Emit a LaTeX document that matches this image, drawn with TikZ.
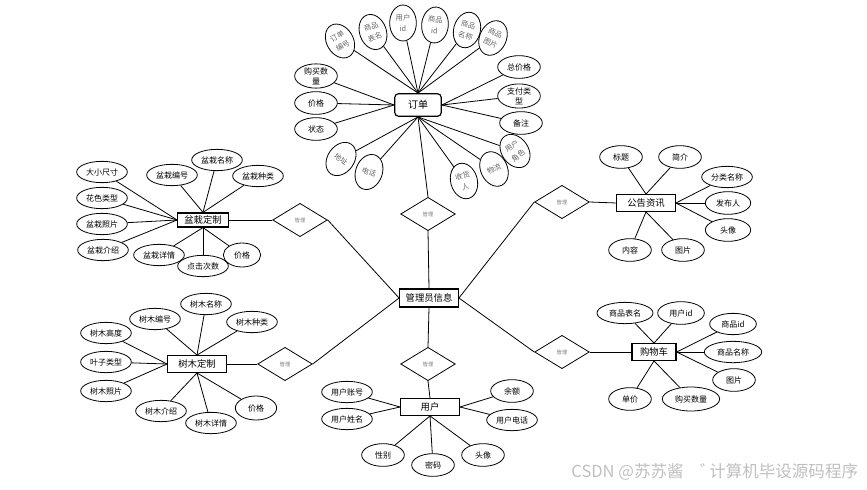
\documentclass[tikz,border=0pt]{standalone}
\usepackage{fontspec}
\setmainfont{Noto Sans CJK SC}
\usepackage{tikz}
\usetikzlibrary{shapes.geometric}

\begin{document}
\begin{tikzpicture}[x=0.75pt, y=-0.75pt, line width=0.6pt,
    every node/.style={font=\fontsize{6}{7.5}\selectfont, inner sep=0pt},
    attr/.style={ellipse, draw, minimum width=38pt, minimum height=16pt, align=center},
    sattr/.style={ellipse, draw, minimum width=32pt, minimum height=17pt, align=center},
    vattr/.style={ellipse, draw, minimum width=20pt, minimum height=27pt, align=center, text=black!60, font=\fontsize{5.5}{8.5}\selectfont},
    ent/.style={rectangle, draw, line width=0.9pt, minimum width=44pt, minimum height=12.5pt, font=\fontsize{7}{8}\selectfont},
    rel/.style={diamond, draw, minimum width=41pt, minimum height=25pt, text=black!50, font=\fontsize{4}{5}\selectfont}]
    \useasboundingbox (0,0) rectangle (867,489);

    % Centre - admin and its relations
    \node[ent, minimum height=13.5pt] (admin) at (429,298) {管理员信息};
    \node[rel] (rorder) at (428,214) {管理};
    \node[rel] (rbonsai) at (300,220) {管理};
    \node[rel] (rtree) at (285,364) {管理};
    \node[rel] (rnotice) at (562,202) {管理};
    \node[rel] (rcart) at (562,352) {管理};
    \node[rel] (ruser) at (428,364) {管理};

    % Entities
    \node[ent, rounded corners=3pt, minimum width=35pt, minimum height=17pt, font=\fontsize{7.5}{8}\selectfont] (order) at (418,105) {订单};
    \node[ent, minimum width=38pt, minimum height=10.5pt] (bonsai) at (203,220) {盆栽定制};
    \node[ent] (tree) at (197,364) {树木定制};
    \node[ent] (user) at (430,407) {用户};
    \node[ent] (notice) at (646,203) {公告资讯};
    \node[ent, minimum width=33pt] (cart) at (654,352) {购物车};

    \draw (admin.north) -- (rorder.south);
    \draw (rorder.north) -- (order.south);
    \draw (admin.west) -- (rbonsai.east);
    \draw (rbonsai.west) -- (bonsai.east);
    \draw (admin.west) -- (rtree.east);
    \draw (rtree.west) -- (tree.east);
    \draw (admin.east) -- (rnotice.west);
    \draw (rnotice.east) -- (notice.west);
    \draw (admin.east) -- (rcart.west);
    \draw (rcart.east) -- (cart.west);
    \draw (admin.south) -- (ruser.north);
    \draw (ruser.south) -- (user.north);

    % Order attributes
    \node[vattr, rotate=30] (oid) at (340,41) {订单\\编号};
    \node[vattr, rotate=20] (otab) at (373,32) {商品\\表名};
    \node[vattr] (ouid) at (403,23) {用户\\id};
    \node[vattr, rotate=-5] (opid) at (435,25) {商品\\id};
    \node[vattr, rotate=-15] (opname) at (467,30) {商品\\名称};
    \node[vattr, rotate=-25] (opic) at (493,38) {商品\\图片};
    \node[sattr] (ototal) at (519,67) {总价格};
    \node[sattr] (opay) at (519,96) {支付类\\型};
    \node[sattr] (onote) at (521,123) {备注};
    \node[vattr, rotate=35] (orole) at (515,151) {用户\\角色};
    \node[vattr, rotate=25] (oship) at (494,169) {物流};
    \node[vattr, rotate=15] (orecv) at (464,181) {收货\\人};
    \node[vattr, rotate=-20] (otel) at (369,172) {电话};
    \node[vattr, rotate=-35] (oaddr) at (341,159) {地址};
    \node[sattr] (ostate) at (316,129) {状态};
    \node[sattr] (oprice) at (316,103) {价格};
    \node[sattr] (onum) at (316,76) {购买数\\量};

    \foreach \a in {oid,otab,ouid,opid,opname,opic} \draw (order.north) -- (\a);
    \foreach \a in {ototal,opay,onote} \draw (order.east) -- (\a);
    \foreach \a in {orole,oship,orecv,otel,oaddr} \draw (order.south) -- (\a);
    \foreach \a in {ostate,oprice,onum} \draw (order.west) -- (\a);

    % Bonsai attributes
    \node[attr] (bsize) at (102,172) {大小尺寸};
    \node[attr] (bcolor) at (102,198) {花色类型};
    \node[attr] (bphoto) at (102,224) {盆栽照片};
    \node[attr] (bintro) at (103,250) {盆栽介绍};
    \node[attr] (bno) at (172,175) {盆栽编号};
    \node[attr] (bname) at (217,160) {盆栽名称};
    \node[attr] (bkind) at (258,176) {盆栽种类};
    \node[attr] (bdetail) at (159,255) {盆栽详情};
    \node[attr] (bclick) at (203,266) {点击次数};
    \node[sattr, minimum width=28pt, minimum height=18pt] (bprice) at (242,255) {价格};

    \foreach \a in {bsize,bcolor,bphoto,bintro} \draw (bonsai.west) -- (\a);
    \foreach \a in {bno,bname,bkind} \draw (bonsai.north) -- (\a);
    \foreach \a in {bdetail,bclick,bprice} \draw (bonsai.south) -- (\a);

    % Tree attributes
    \node[attr] (tno) at (155,319) {树木编号};
    \node[attr] (tname) at (206,304) {树木名称};
    \node[attr] (tkind) at (252,322) {树木种类};
    \node[attr] (theight) at (106,333) {树木高度};
    \node[attr] (tleaf) at (106,362) {叶子类型};
    \node[attr] (tphoto) at (106,391) {树木照片};
    \node[attr] (tintro) at (161,411) {树木介绍};
    \node[attr] (tdetail) at (211,423) {树木详情};
    \node[sattr, minimum width=31pt, minimum height=18pt] (tprice) at (256,408) {价格};

    \foreach \a in {theight,tleaf,tphoto} \draw (tree.west) -- (\a);
    \foreach \a in {tno,tname,tkind} \draw (tree.north) -- (\a);
    \foreach \a in {tintro,tdetail,tprice} \draw (tree.south) -- (\a);

    % User attributes
    \node[attr] (uacc) at (347,392) {用户账号};
    \node[attr] (uname) at (347,419) {用户姓名};
    \node[sattr] (usex) at (383,455) {性别};
    \node[sattr] (upwd) at (433,465) {密码};
    \node[sattr] (uavatar) at (483,455) {头像};
    \node[sattr] (ubal) at (512,391) {余额};
    \node[attr] (utel) at (512,420) {用户电话};

    \foreach \a in {uacc,uname} \draw (user.west) -- (\a);
    \foreach \a in {ubal,utel} \draw (user.east) -- (\a);
    \foreach \a in {usex,upwd,uavatar} \draw (user.south) -- (\a);

    % Notice attributes
    \node[sattr] (ntitle) at (621,157) {标题};
    \node[sattr] (nbrief) at (680,157) {简介};
    \node[attr] (ncat) at (727,177) {分类名称};
    \node[sattr, minimum width=34pt] (nauthor) at (728,203) {发布人};
    \node[sattr, minimum width=34pt] (navatar) at (728,230) {头像};
    \node[sattr] (ntext) at (630,250) {内容};
    \node[sattr] (npic) at (683,250) {图片};

    \foreach \a in {ntitle,nbrief} \draw (notice.north) -- (\a);
    \foreach \a in {ncat,nauthor,navatar} \draw (notice.east) -- (\a);
    \foreach \a in {ntext,npic} \draw (notice.south) -- (\a);

    % Cart attributes
    \node[attr, minimum width=42pt] (ctab) at (625,313) {商品表名};
    \node[sattr, minimum width=35pt] (cuid) at (681,313) {用户id};
    \node[attr, minimum width=35pt] (cpid) at (733,324) {商品id};
    \node[attr, minimum width=43pt] (cpname) at (733,352) {商品名称};
    \node[sattr] (cpic) at (734,380) {图片};
    \node[sattr] (cprice) at (630,399) {单价};
    \node[attr, minimum width=43pt, minimum height=18pt] (cnum) at (691,399) {购买数量};

    \foreach \a in {ctab,cuid} \draw (cart.north) -- (\a);
    \foreach \a in {cpid,cpname,cpic} \draw (cart.east) -- (\a);
    \foreach \a in {cprice,cnum} \draw (cart.south) -- (\a);

    % Watermark
    \node[anchor=west, text=black!25, font=\fontsize{12.4}{13}\selectfont] (mark) at (571,472) {CSDN @苏苏酱\hspace{1em}゛\kern-0.45em计算机毕设源码程序};
\end{tikzpicture}
\end{document}
